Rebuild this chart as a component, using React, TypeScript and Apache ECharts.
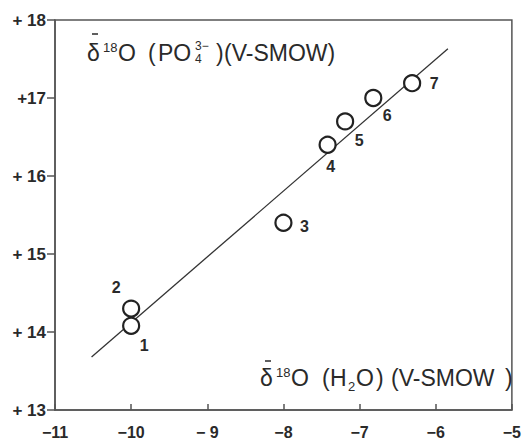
import React, { useEffect, useRef } from "react";
import * as echarts from "echarts";

// ---- data ----
const pointNames = ["1", "2", "3", "4", "5", "6", "7"];
const xValues = [-10.0, -10.0, -8.0, -7.42, -7.19, -6.82, -6.31];
const yValues = [14.08, 14.3, 15.4, 16.4, 16.7, 17.0, 17.19];
const fitX = [-10.52, -5.84];
const fitY = [13.68, 17.63];
const xTickValues = [-11, -10, -9, -8, -7, -6, -5];
const xTickLabels = ["\u221211", "\u221210", "\u2212 9", "\u22128", "\u22127", "\u22126", "\u22125"];
const yTickValues = [13, 14, 15, 16, 17, 18];
const yTickLabels = ["+ 13", "+ 14", "+ 15", "+ 16", "+17", "+ 18"];

// label offsets (styling) for each point's number
const labelOffsets: number[][] = [
  [13, 20],
  [-15, -21],
  [21, 4],
  [3, 22],
  [14, 19],
  [14, 17],
  [22, 0],
];

const FONT = "'Liberation Sans', Arial, Helvetica, sans-serif";
const INK = "#2a2a2a";

type Piece = { t: string; x: number; y: number; s: number };
const topTitle: Piece[] = [
  { t: "\u03B4", x: 87, y: 53, s: 23 },
  { t: "18", x: 103, y: 47, s: 13 },
  { t: "O", x: 118, y: 53, s: 23 },
  { t: "(", x: 148, y: 53, s: 23 },
  { t: "PO", x: 158, y: 53, s: 23 },
  { t: "3\u2212", x: 195, y: 46, s: 12 },
  { t: "4", x: 195, y: 59, s: 12 },
  { t: ")", x: 216, y: 53, s: 23 },
  { t: "(V-SMOW)", x: 224, y: 53, s: 23 },
];
const bottomTitle: Piece[] = [
  { t: "\u03B4", x: 260, y: 378, s: 23 },
  { t: "18", x: 276, y: 372, s: 13 },
  { t: "O", x: 291, y: 378, s: 23 },
  { t: "(", x: 322, y: 378, s: 23 },
  { t: "H", x: 330, y: 378, s: 23 },
  { t: "2", x: 348, y: 386, s: 13 },
  { t: "O", x: 356, y: 378, s: 23 },
  { t: ")", x: 376, y: 378, s: 23 },
  { t: "(V-SMOW", x: 391, y: 378, s: 23 },
  { t: ")", x: 505, y: 378, s: 23 },
];
// macrons over the delta signs: [x1, x2, y]
const macrons: number[][] = [
  [92, 98, 34],
  [265, 271, 361],
];

function pieceToGraphic(p: Piece) {
  return {
    type: "text",
    x: p.x,
    y: p.y,
    silent: true,
    style: {
      text: p.t,
      font: `${p.s}px ${FONT}`,
      fill: INK,
      align: "left",
      verticalAlign: "middle",
    },
  };
}

export default function App() {
  const ref = useRef<HTMLDivElement>(null);
  useEffect(() => {
    if (!ref.current) return;
    const chart = echarts.init(ref.current, undefined, { renderer: "svg" });
    const lineColor = "#555";
    chart.setOption({
      animation: false,
      backgroundColor: "#fff",
      grid: {
        left: 55,
        right: 4,
        top: 20,
        bottom: 31,
        show: true,
        borderColor: lineColor,
        borderWidth: 1.5,
        backgroundColor: "transparent",
      },
      xAxis: {
        type: "value",
        min: -11,
        max: -5,
        interval: 1,
        axisLine: { show: true, lineStyle: { color: lineColor, width: 1.5 } },
        axisTick: { show: true, inside: true, length: 6, lineStyle: { color: lineColor, width: 1.5 } },
        splitLine: { show: false },
        axisLabel: {
          margin: 14,
          fontFamily: FONT,
          fontWeight: "bold",
          fontSize: 16,
          color: INK,
          formatter: (v: number) => {
            const i = xTickValues.indexOf(Math.round(v));
            return i >= 0 ? xTickLabels[i] : "";
          },
        },
      },
      yAxis: {
        type: "value",
        min: 13,
        max: 18,
        interval: 1,
        axisLine: { show: true, lineStyle: { color: lineColor, width: 1.5 } },
        axisTick: { show: true, inside: false, length: 8, lineStyle: { color: lineColor, width: 1.5 } },
        splitLine: { show: false },
        axisLabel: {
          margin: 9,
          fontFamily: FONT,
          fontWeight: "bold",
          fontSize: 17,
          color: INK,
          formatter: (v: number) => {
            const i = yTickValues.indexOf(Math.round(v));
            return i >= 0 ? yTickLabels[i] : "";
          },
        },
      },
      series: [
        {
          type: "line",
          data: fitX.map((x, i) => [x, fitY[i]]),
          showSymbol: false,
          symbol: "none",
          lineStyle: { color: "#333", width: 1.3 },
          z: 1,
          silent: true,
        },
        {
          type: "scatter",
          symbol: "circle",
          symbolSize: 16,
          z: 3,
          itemStyle: { color: "#fff", borderColor: "#222", borderWidth: 2.2, opacity: 1 },
          label: {
            show: true,
            formatter: (p: any) => p.name,
            fontFamily: FONT,
            fontWeight: "bold",
            fontSize: 16,
            color: INK,
          },
          data: xValues.map((x, i) => ({
            name: pointNames[i],
            value: [x, yValues[i]],
            label: { position: "inside", offset: labelOffsets[i] },
          })),
        },
      ],
      graphic: [
        ...[...topTitle, ...bottomTitle].map(pieceToGraphic),
        ...macrons.map((m) => ({
          type: "line",
          silent: true,
          shape: { x1: m[0], y1: m[2], x2: m[1], y2: m[2] },
          style: { stroke: INK, lineWidth: 1.5 },
        })),
      ],
    });
    return () => chart.dispose();
  }, []);
  return <div ref={ref} style={{ width: 524, height: 441, position: "absolute", left: 0, top: 0 }} />;
}
